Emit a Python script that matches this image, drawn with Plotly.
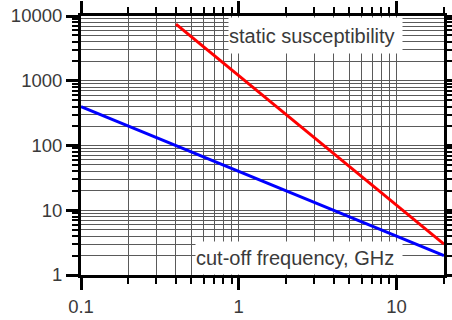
import math
import plotly.graph_objects as go

# Data (log-log straight lines)
freq_static = [0.4, 1, 10, 20]
static_susceptibility = [7500, 1200, 12, 3]
freq_cutoff = [0.1, 1, 10, 20]
cutoff_frequency_ghz = [400, 40, 4, 2]

x_major = [0.1, 1, 10]
x_major_labels = ["0.1", "1", "10"]
x_minor = [m * d for d in (0.1, 1, 10) for m in range(2, 10)] + [20]
y_major = [1, 10, 100, 1000, 10000]
y_major_labels = ["1", "10", "100", "1000", "10000"]
y_minor = [m * d for d in (1, 10, 100, 1000) for m in range(2, 10)]

label_static = "static susceptibility"
label_cutoff = "cut-off frequency, GHz"

FONT = "Liberation Sans, Arial, sans-serif"
TXT = "#3a3a3a"
GRID = "#5a5a5a"

fig = go.Figure()
fig.add_trace(go.Scatter(x=freq_cutoff, y=cutoff_frequency_ghz, mode="lines",
                         line=dict(color="#0000ff", width=3), showlegend=False))
fig.add_trace(go.Scatter(x=freq_static, y=static_susceptibility, mode="lines",
                         line=dict(color="#ff0000", width=3), showlegend=False))

axis_common = dict(
    type="log", showline=True, linecolor="black", linewidth=3, mirror="allticks",
    ticks="outside", ticklen=12, tickwidth=3, tickcolor="black",
    showgrid=True, gridcolor=GRID, gridwidth=1, zeroline=False, automargin=False,
    tickfont=dict(family=FONT, size=18.5, color=TXT),
)

fig.update_xaxes(range=[-1, math.log10(20)], tickmode="array", tickvals=x_major,
                 ticktext=x_major_labels, ticklabelstandoff=1,
                 minor=dict(tickmode="array", tickvals=x_minor, ticks="outside", ticklen=6,
                            tickwidth=2, tickcolor="black", showgrid=True,
                            gridcolor=GRID, gridwidth=1),
                 **axis_common)
fig.update_yaxes(range=[0, 4], tickmode="array", tickvals=y_major,
                 ticktext=y_major_labels,
                 minor=dict(tickmode="array", tickvals=y_minor, ticks="outside", ticklen=6,
                            tickwidth=2, tickcolor="black", showgrid=True,
                            gridcolor=GRID, gridwidth=1),
                 **axis_common)

W, H = 452, 320
L, R, T, B = 81, 8, 16, 45
pw, ph = W - L - R, H - T - B

def px(xp):
    return (xp - L) / pw

def py(yp):
    return 1 - (yp - T) / ph

fig.add_annotation(text=label_static, xref="paper", yref="paper",
                   x=px(228), y=py(17), xanchor="left", yanchor="top",
                   width=173, height=35, align="left", valign="middle",
                   bgcolor="white", borderpad=0, showarrow=False,
                   font=dict(family=FONT, size=20, color=TXT))
fig.add_annotation(text=label_cutoff, xref="paper", yref="paper",
                   x=px(195), y=py(241), xanchor="left", yanchor="top",
                   width=206, height=32, align="left", valign="middle",
                   bgcolor="white", borderpad=0, showarrow=False,
                   font=dict(family=FONT, size=20, color=TXT))

fig.update_layout(width=W, height=H, margin=dict(l=L, r=R, t=T, b=B),
                  paper_bgcolor="white", plot_bgcolor="white")

fig.write_html("out.html")
